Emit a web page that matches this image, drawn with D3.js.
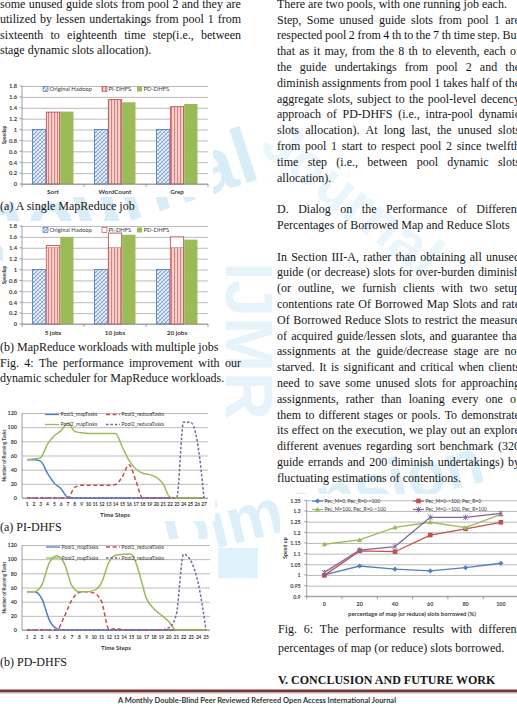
<!DOCTYPE html>
<html><head><meta charset="utf-8">
<script src="https://cdn.jsdelivr.net/npm/d3@7"></script>
<style>
html,body{margin:0;padding:0;background:#fff;overflow:hidden;}
#page{position:relative;width:517px;height:704px;overflow:hidden;background:#fff;}
#svg{position:absolute;left:0;top:0;}
#text{position:absolute;left:0;top:0;width:517px;height:704px;}
.ln{position:absolute;font-family:"Liberation Serif","Times New Roman",serif;font-size:12px;line-height:16px;height:16px;color:#161616;white-space:nowrap;}
.j{display:flex;justify-content:space-between;}
.b{font-weight:bold;}
</style></head><body><div id="page"><svg id="svg" width="517" height="704"></svg><div id="text"></div></div>
<script>
// ---------------- DATA ----------------
const fig4Series = ["Original Hadoop", "PI-DHFS", "PD-DHFS"];
const speedupTicks = [0, 0.2, 0.4, 0.6, 0.8, 1, 1.2, 1.4, 1.6, 1.8];
const speedupTickLabels = ["0", "0.2", "0.4", "0.6", "0.8", "1", "1.2", "1.4", "1.6", "1.8"];

const fig4aCategories = ["Sort", "WordCount", "Grep"];
const fig4aOriginal = [1.0, 1.0, 1.0];
const fig4aPI = [1.32, 1.55, 1.42];
const fig4aPD = [1.33, 1.50, 1.47];

const fig4bCategories = ["5 jobs", "10 jobs", "20 jobs"];
const fig4bOriginal = [1.0, 1.0, 1.0];
const fig4bPI = [1.44, 1.67, 1.60];
const fig4bPIStriped = [1.40, 1.40, 1.40];
const fig4bPD = [1.60, 1.64, 1.55];

const taskSeries = ["Pool1_mapTasks", "Pool1_reduceTasks", "Pool2_mapTasks", "Pool2_reduceTasks"];
const taskTicks = [0, 20, 40, 60, 80, 100, 120];
const taskTickLabels = ["0", "20", "40", "60", "80", "100", "120"];

const piSteps = [1,2,3,4,5,6,7,8,9,10,11,12,13,14,15,16,17,18,19,20,21,22,23,24,25,26,27];
const piPool1Map    = [54,54,52,35,21,13,1,0,0,0,0,0,0,0,0,0,0,0,0,0,0,0,0,0,0,0,0];
const piPool1Reduce = [0,0,0,0,0,0,0,15,18,18,18,18,18,19,30,47,24,0,0,0,0,0,0,0,0,0,0];
const piPool2Map    = [54,55,57,76,88,95,106,94,92,91,91,91,91,91,72,53,41,35,33,29,20,1,0,0,0,0,0];
const piPool2Reduce = [0,0,0,0,0,0,0,0,0,0,0,0,0,0,0,0,0,0,0,0,0,0,1,107,107,81,0];

const pdSteps = [1,2,3,4,5,6,7,8,9,10,11,12,13,14,15,16,17,18,19,20,21,22,23,24,25];
const pdPool1Map    = [54,54,44,14,2,0,0,0,0,0,0,0,0,0,0,0,0,0,0,0,0,0,0,0,0];
const pdPool1Reduce = [0,0,0,0,0,19,42,53,54,52,40,1,2,0,0,0,0,0,0,0,0,0,0,0,0];
const pdPool2Map    = [54,54,64,95,105,94,63,54,54,56,67,96,106,107,107,82,45,30,21,12,0,0,0,0,0];
const pdPool2Reduce = [0,0,0,0,0,0,0,0,0,0,0,0,0,0,0,0,0,0,0,3,21,107,97,64,0];

const fig6Categories = ["0", "20", "40", "60", "80", "100"];
const fig6Series = ["Pec_M=0, Pec_R=0->100", "Pec_M=0->100, Pec_R=0", "Pec_M=100, Pec_R=0->100", "Pec_M=0->100, Pec_R=100"];
const fig6MZeroR     = [1.000, 1.042, 1.027, 1.019, 1.034, 1.055];
const fig6MRampRZero = [0.998, 1.113, 1.109, 1.187, 1.216, 1.247];
const fig6MFullR     = [1.144, 1.164, 1.223, 1.247, 1.222, 1.284];
const fig6MRampRFull = [1.012, 1.117, 1.133, 1.270, 1.270, 1.289];
const fig6Ticks = [0.9, 0.95, 1, 1.05, 1.1, 1.15, 1.2, 1.25, 1.3, 1.35];
const fig6TickLabels = ["0.9", "0.95", "1", "1.05", "1.1", "1.15", "1.2", "1.25", "1.3", "1.35"];

// ---------------- DRAW ----------------
const svg = d3.select("#svg");
const defs = svg.append("defs");
const BLUE = "#4f81bd", RED = "#c0504d", GREEN = "#9bbb59", PURPLE = "#8064a2";
const LBL = "Lato, 'Liberation Sans', Arial, sans-serif";

// patterns
const pb = defs.append("pattern").attr("id", "pBlue").attr("patternUnits", "userSpaceOnUse").attr("width", 4).attr("height", 4);
pb.append("rect").attr("width", 4).attr("height", 4).attr("fill", "#e4ecf7");
pb.append("path").attr("d", "M0,4 L4,0 M-1,1 L1,-1 M3,5 L5,3").attr("stroke", "#6f95cc").attr("stroke-width", 0.9);
pb.append("path").attr("d", "M0,0 L4,4 M-1,3 L1,5 M3,-1 L5,1").attr("stroke", "#9fbbe0").attr("stroke-width", 0.6);
const pr = defs.append("pattern").attr("id", "pRed").attr("patternUnits", "userSpaceOnUse").attr("width", 3).attr("height", 3);
pr.append("rect").attr("width", 3).attr("height", 3).attr("fill", "#f6d2d1");
pr.append("rect").attr("width", 1.1).attr("height", 3).attr("fill", "#d8827f");

// watermark
const wm = svg.append("g").attr("font-family", "'Liberation Sans', Arial, sans-serif").attr("font-weight", "bold");
wm.append("text").attr("transform", "translate(262,178) rotate(-18)").attr("text-anchor", "end").attr("font-size", 78).attr("fill", "#d9edf9").text("Journal");
wm.append("text").attr("transform", "translate(258,150) rotate(38)").attr("font-size", 58).attr("fill", "#eaf5fc").text("Journal");
wm.append("text").attr("transform", "translate(226,262) rotate(90)").attr("font-size", 66).attr("fill", "#e6f3fb").text("IJMR");
wm.append("text").attr("transform", "translate(170,560) rotate(-14)").attr("font-size", 64).attr("fill", "#ddf0fa").text("Dimension");
wm.append("rect").attr("x", 218).attr("y", 548).attr("width", 40).attr("height", 30).attr("fill", "#dff1fa");

function styleAxisText(sel, size, weight) {
  sel.attr("font-family", LBL).attr("font-size", size).attr("font-weight", weight || "bold").attr("fill", "#3a3a3a");
}

// ---------- bar charts (Fig 4) ----------
function barChart(o) {
  const g = svg.append("g");
  g.append("rect").attr("x", o.bg[0]).attr("y", o.bg[1]).attr("width", o.bg[2]).attr("height", o.bg[3]).attr("fill", "#fff");
  const y = d3.scaleLinear().domain([0, 1.8]).range([o.y0, o.y1]);
  const x = d3.scaleBand().domain(o.cats).range([o.x0, o.x1]);
  const xs = d3.scaleBand().domain(fig4Series).range([0, x.bandwidth()]).paddingInner(0.04).paddingOuter(0.76);
  const ya = g.append("g").attr("transform", `translate(${o.x0},0)`)
    .call(d3.axisLeft(y).tickValues(speedupTicks).tickFormat((d, i) => speedupTickLabels[i]).tickSize(-(o.x1 - o.x0)).tickPadding(5));
  ya.select(".domain").remove();
  ya.selectAll("line").attr("stroke", "#a9a9a9").attr("stroke-width", 0.8);
  styleAxisText(ya.selectAll("text"), 5.8);
  g.append("g").selectAll("line").data(speedupTicks).join("line")
    .attr("x1", o.x0 - 2.5).attr("x2", o.x0).attr("y1", d => y(d)).attr("y2", d => y(d)).attr("stroke", "#888").attr("stroke-width", 0.8);
  g.append("line").attr("x1", o.x0).attr("x2", o.x0).attr("y1", y(0)).attr("y2", y(1.8)).attr("stroke", "#888").attr("stroke-width", 0.8);
  o.cats.forEach((c, i) => {
    const bx = x(c);
    g.append("rect").attr("x", bx + xs(fig4Series[0])).attr("y", y(o.orig[i])).attr("width", xs.bandwidth()).attr("height", y(0) - y(o.orig[i]))
      .attr("fill", "url(#pBlue)").attr("stroke", BLUE).attr("stroke-width", 0.9);
    const px = bx + xs(fig4Series[1]);
    g.append("rect").attr("x", px).attr("y", y(o.pi[i])).attr("width", xs.bandwidth()).attr("height", y(0) - y(o.pi[i]))
      .attr("fill", o.piStriped ? "#fff" : "url(#pRed)").attr("stroke", RED).attr("stroke-width", 0.9);
    if (o.piStriped) {
      g.append("rect").attr("x", px).attr("y", y(o.piStriped[i])).attr("width", xs.bandwidth()).attr("height", y(0) - y(o.piStriped[i]))
        .attr("fill", "url(#pRed)").attr("stroke", RED).attr("stroke-width", 0.5);
    }
    g.append("rect").attr("x", bx + xs(fig4Series[2])).attr("y", y(o.pd[i])).attr("width", xs.bandwidth()).attr("height", y(0) - y(o.pd[i]))
      .attr("fill", GREEN);
  });
  g.append("line").attr("x1", o.x0).attr("x2", o.x1).attr("y1", y(0)).attr("y2", y(0)).attr("stroke", "#888").attr("stroke-width", 0.8);
  const bounds = o.cats.map(c => x(c)).concat([o.x1]);
  g.append("g").selectAll("line").data(bounds).join("line")
    .attr("x1", d => d).attr("x2", d => d).attr("y1", y(0)).attr("y2", y(0) + 3).attr("stroke", "#888").attr("stroke-width", 0.8);
  styleAxisText(g.append("g").selectAll("text").data(o.cats).join("text")
    .attr("x", d => x(d) + x.bandwidth() / 2).attr("y", o.labelY).attr("text-anchor", "middle").attr("dy", "0.35em").text(d => d), 6.3);
  styleAxisText(g.append("text").attr("transform", `translate(${o.titleX},${(y(0) + y(1.8)) / 2}) rotate(-90)`).attr("text-anchor", "middle").text("Speedup"), 4.8);
  const lg = g.append("g");
  const fills = ["url(#pBlue)", "url(#pRed)", GREEN];
  const strokes = [BLUE, RED, "none"];
  o.legendX.forEach((lx, k) => {
    lg.append("rect").attr("x", lx).attr("y", o.legendY - 2.5).attr("width", 5).attr("height", 5).attr("fill", k === 1 && o.piStriped ? "#fff" : fills[k]).attr("stroke", strokes[k]).attr("stroke-width", 0.7);
    styleAxisText(lg.append("text").attr("x", lx + 6.5).attr("y", o.legendY).attr("dy", "0.35em").text(fig4Series[k]), 5.9, "normal");
  });
}

barChart({ cats: fig4aCategories, orig: fig4aOriginal, pi: fig4aPI, pd: fig4aPD, y0: 184, y1: 86, x0: 22, x1: 208,
  labelY: 191.5, titleX: 6, legendY: 89, legendX: [43, 102, 137], bg: [3, 79, 210, 118] });
barChart({ cats: fig4bCategories, orig: fig4bOriginal, pi: fig4bPI, piStriped: fig4bPIStriped, pd: fig4bPD, y0: 324, y1: 226, x0: 22, x1: 208,
  labelY: 333, titleX: 6, legendY: 230, legendX: [43, 102, 137], bg: [3, 221, 210, 118] });

// ---------- line charts (Fig 5) ----------
function lineChart(o) {
  const g = svg.append("g");
  g.append("rect").attr("x", o.bg[0]).attr("y", o.bg[1]).attr("width", o.bg[2]).attr("height", o.bg[3]).attr("fill", "#fff");
  const y = d3.scaleLinear().domain([0, 120]).range([o.y0, o.y1]);
  const x = d3.scalePoint().domain(o.steps).range(o.xr);
  const ya = g.append("g").attr("transform", `translate(${o.x0},0)`)
    .call(d3.axisLeft(y).tickValues(taskTicks).tickFormat((d, i) => taskTickLabels[i]).tickSize(-(o.x1 - o.x0)).tickPadding(5));
  ya.select(".domain").remove();
  ya.selectAll("line").attr("stroke", "#a9a9a9").attr("stroke-width", 0.8);
  styleAxisText(ya.selectAll("text"), 5.4);
  g.append("line").attr("x1", o.x0).attr("x2", o.x0).attr("y1", y(0)).attr("y2", y(120)).attr("stroke", "#888").attr("stroke-width", 0.8);
  g.append("line").attr("x1", o.x0).attr("x2", o.x1).attr("y1", y(0)).attr("y2", y(0)).attr("stroke", "#888").attr("stroke-width", 0.8);
  styleAxisText(g.append("g").selectAll("text").data(o.steps).join("text")
    .attr("x", d => x(d)).attr("y", o.labelY).attr("text-anchor", "middle").attr("dy", "0.35em").attr("letter-spacing", -0.2).text(d => d), 4.9);
  styleAxisText(g.append("text").attr("x", (o.x0 + o.x1) / 2).attr("y", o.titleY).attr("text-anchor", "middle").attr("dy", "0.35em").text("Time Steps"), 6.1);
  styleAxisText(g.append("text").attr("transform", `translate(6,${(y(0) + y(120)) / 2}) rotate(-90)`).attr("text-anchor", "middle").text("Number of Running Tasks"), 4.6);
  const colors = [BLUE, RED, GREEN, PURPLE];
  const dashes = [null, "4,2.6", null, "2.6,1.8"];
  const line = d3.line().x((d, i) => x(o.steps[i])).y(d => y(d)).curve(d3.curveMonotoneX);
  o.series.forEach((vals, k) => {
    g.append("path").attr("d", line(vals)).attr("fill", "none").attr("stroke", colors[k]).attr("stroke-width", 1.5)
      .attr("stroke-dasharray", dashes[k]);
  });
  const pos = [[o.lx[0], o.ly[0]], [o.lx[1], o.ly[0]], [o.lx[0], o.ly[1]], [o.lx[1], o.ly[1]]];
  pos.forEach((p, k) => {
    g.append("line").attr("x1", p[0]).attr("x2", p[0] + 14).attr("y1", p[1]).attr("y2", p[1]).attr("stroke", colors[k]).attr("stroke-width", 1.3).attr("stroke-dasharray", dashes[k]);
    styleAxisText(g.append("text").attr("x", p[0] + 15.5).attr("y", p[1]).attr("dy", "0.35em").text(taskSeries[k]), 5.2, "normal");
  });
}
lineChart({ steps: piSteps, series: [piPool1Map, piPool1Reduce, piPool2Map, piPool2Reduce], y0: 498, y1: 413, x0: 22, x1: 208, xr: [27, 204],
  labelY: 504.5, titleY: 514.5, lx: [45, 106], ly: [414.5, 424.5], bg: [3, 405, 212, 116] });
lineChart({ steps: pdSteps, series: [pdPool1Map, pdPool1Reduce, pdPool2Map, pdPool2Reduce], y0: 630, y1: 545, x0: 22, x1: 210, xr: [27, 206],
  labelY: 637, titleY: 647.5, lx: [46, 106], ly: [547, 558], bg: [3, 539, 214, 115] });

// ---------- Fig 6 ----------
(function () {
  const g = svg.append("g");
  g.append("rect").attr("x", 280).attr("y", 494).attr("width", 240).attr("height", 126).attr("fill", "#fff");
  const x0 = 306.7, x1 = 518.5;
  const y = d3.scaleLinear().domain([0.9, 1.35]).range([596.3, 500.3]);
  const x = d3.scaleBand().domain(fig6Categories).range([x0, x1]);
  const ya = g.append("g").attr("transform", `translate(${x0},0)`)
    .call(d3.axisLeft(y).tickValues(fig6Ticks).tickFormat((d, i) => fig6TickLabels[i]).tickSize(-(x1 - x0)).tickPadding(6));
  ya.select(".domain").remove();
  ya.selectAll("line").attr("stroke", "#a9a9a9").attr("stroke-width", 0.8);
  styleAxisText(ya.selectAll("text"), 5.3);
  g.append("g").selectAll("line").data(fig6Ticks).join("line")
    .attr("x1", x0 - 2.5).attr("x2", x0).attr("y1", d => y(d)).attr("y2", d => y(d)).attr("stroke", "#888").attr("stroke-width", 0.8);
  g.append("line").attr("x1", x0).attr("x2", x0).attr("y1", y(0.9)).attr("y2", y(1.35)).attr("stroke", "#888").attr("stroke-width", 0.8);
  g.append("line").attr("x1", x0).attr("x2", x1).attr("y1", y(0.9)).attr("y2", y(0.9)).attr("stroke", "#888").attr("stroke-width", 0.8);
  g.append("g").selectAll("line").data(fig6Categories.map(c => x(c))).join("line")
    .attr("x1", d => d).attr("x2", d => d).attr("y1", y(0.9)).attr("y2", y(0.9) + 3).attr("stroke", "#888").attr("stroke-width", 0.8);
  styleAxisText(g.append("g").selectAll("text").data(fig6Categories).join("text")
    .attr("x", d => x(d) + x.bandwidth() / 2).attr("y", 604).attr("text-anchor", "middle").attr("dy", "0.35em").text(d => d), 5.4);
  styleAxisText(g.append("text").attr("x", 412).attr("y", 613.5).attr("text-anchor", "middle").attr("dy", "0.35em").text("percentage of map (or reduce) slots borrowed (%)"), 5.9);
  styleAxisText(g.append("text").attr("transform", `translate(287,548) rotate(-90)`).attr("text-anchor", "middle").text("Speed up"), 5.2);
  const colors = [BLUE, RED, GREEN, PURPLE];
  const sets = [fig6MZeroR, fig6MRampRZero, fig6MFullR, fig6MRampRFull];
  const cx = c => x(c) + x.bandwidth() / 2;
  const line = d3.line().x((d, i) => cx(fig6Categories[i])).y(d => y(d));
  function marker(sel, k, px, py) {
    const c = colors[k];
    if (k === 0) sel.append("path").attr("d", `M${px},${py - 2.6}L${px + 2.6},${py}L${px},${py + 2.6}L${px - 2.6},${py}Z`).attr("fill", c);
    if (k === 1) sel.append("rect").attr("x", px - 2.3).attr("y", py - 2.3).attr("width", 4.6).attr("height", 4.6).attr("fill", c);
    if (k === 2) sel.append("path").attr("d", `M${px},${py - 2.7}L${px + 2.6},${py + 2}L${px - 2.6},${py + 2}Z`).attr("fill", c);
    if (k === 3) sel.append("path").attr("d", `M${px - 2.3},${py - 2.3}L${px + 2.3},${py + 2.3}M${px + 2.3},${py - 2.3}L${px - 2.3},${py + 2.3}M${px},${py - 2.8}L${px},${py + 2.8}`).attr("stroke", c).attr("stroke-width", 0.9).attr("fill", "none");
  }
  sets.forEach((vals, k) => {
    g.append("path").attr("d", line(vals)).attr("fill", "none").attr("stroke", colors[k]).attr("stroke-width", 1.3);
    vals.forEach((v, i) => marker(g, k, cx(fig6Categories[i]), y(v)));
  });
  const pos = [[312, 501], [413, 501], [312, 509.5], [413, 509.5]];
  pos.forEach((p, k) => {
    g.append("line").attr("x1", p[0]).attr("x2", p[0] + 11).attr("y1", p[1]).attr("y2", p[1]).attr("stroke", colors[k]).attr("stroke-width", 1.2);
    marker(g, k, p[0] + 5.5, p[1]);
    styleAxisText(g.append("text").attr("x", p[0] + 12.5).attr("y", p[1]).attr("dy", "0.35em").text(fig6Series[k]), 5.0, "normal");
  });
})();

// ---------- footer ----------
svg.append("rect").attr("x", 0).attr("y", 689.5).attr("width", 517).attr("height", 3).attr("fill", "#7b3434");
svg.append("rect").attr("x", 0).attr("y", 692.5).attr("width", 517).attr("height", 1).attr("fill", "#cdb2b2");
svg.append("text").attr("x", 118).attr("y", 702.5).attr("textLength", 278).attr("lengthAdjust", "spacingAndGlyphs")
  .attr("font-family", LBL).attr("font-weight", "bold").attr("font-size", 7.2).attr("fill", "#333")
  .text("A Monthly Double-Blind Peer Reviewed Refereed Open Access International Journal");

// ---------- body text ----------
const T = document.getElementById("text");
function addLine(txt, left, cy, width, justify, cls) {
  const d = document.createElement("div");
  d.className = "ln" + (justify ? " j" : "") + (cls ? " " + cls : "");
  d.style.left = left + "px";
  d.style.top = (cy - 9) + "px";
  if (width) d.style.width = width + "px";
  if (justify) {
    txt.split(" ").forEach(w => { const s = document.createElement("span"); s.textContent = w; d.appendChild(s); });
  } else d.textContent = txt;
  T.appendChild(d);
}
const leftTop = [
  ["some unused guide slots from pool 2 and they are", 1],
  ["utilized by lessen undertakings from pool 1 from", 1],
  ["sixteenth to eighteenth time step(i.e., between", 1],
  ["stage dynamic slots allocation).", 0]
];
leftTop.forEach((l, i) => addLine(l[0], 0, 4.8 + i * 15.4, 241, l[1]));
addLine("(a) A single MapReduce job", 0, 207, 0, 0);
addLine("(b) MapReduce workloads with multiple jobs", 0, 348, 0, 0);
addLine("Fig. 4: The performance improvement with our", 0, 363.5, 241, 1);
addLine("dynamic scheduler for MapReduce workloads.", 0, 379, 0, 0);
addLine("(a) PI-DHFS", 0, 528, 0, 0);
addLine("(b) PD-DHFS", 0, 663, 0, 0);

const right = [
  ["There are two pools, with one running job each.", 0],
  ["Step, Some unused guide slots from pool 1 are", 1],
  ["respected pool 2 from 4 th to the 7 th time step. But", 1],
  ["that as it may, from the 8 th to eleventh, each of", 1],
  ["the guide undertakings from pool 2 and the", 1],
  ["diminish assignments from pool 1 takes half of the", 1],
  ["aggregate slots, subject to the pool-level decency", 1],
  ["approach of PD-DHFS (i.e., intra-pool dynamic", 1],
  ["slots allocation). At long last, the unused slots", 1],
  ["from pool 1 start to respect pool 2 since twelfth", 1],
  ["time step (i.e., between pool dynamic slots", 1],
  ["allocation).", 0],
  null,
  ["D. Dialog on the Performance of Different", 1],
  ["Percentages of Borrowed Map and Reduce Slots", 0],
  null,
  ["In Section III-A, rather than obtaining all unused", 1],
  ["guide (or decrease) slots for over-burden diminish", 1],
  ["(or outline, we furnish clients with two setup", 1],
  ["contentions rate Of Borrowed Map Slots and rate", 1],
  ["Of Borrowed Reduce Slots to restrict the measure", 1],
  ["of acquired guide/lessen slots, and guarantee that", 1],
  ["assignments at the guide/decrease stage are not", 1],
  ["starved. It is significant and critical when clients", 1],
  ["need to save some unused slots for approaching", 1],
  ["assignments, rather than loaning every one of", 1],
  ["them to different stages or pools. To demonstrate", 1],
  ["its effect on the execution, we play out an explore", 1],
  ["different avenues regarding sort benchmark (320", 1],
  ["guide errands and 200 diminish undertakings) by", 1],
  ["fluctuating estimations of contentions.", 0]
];
right.forEach((l, i) => { if (l) addLine(l[0], 277, 4.8 + i * 15.8, 243, l[1]); });
addLine("Fig. 6: The performance results with different", 278, 630, 242, 1);
addLine("percentages of map (or reduce) slots borrowed.", 278, 649, 0, 0);
addLine("V. CONCLUSION AND FUTURE WORK", 278, 681, 0, 0, "b");
</script></body></html>
